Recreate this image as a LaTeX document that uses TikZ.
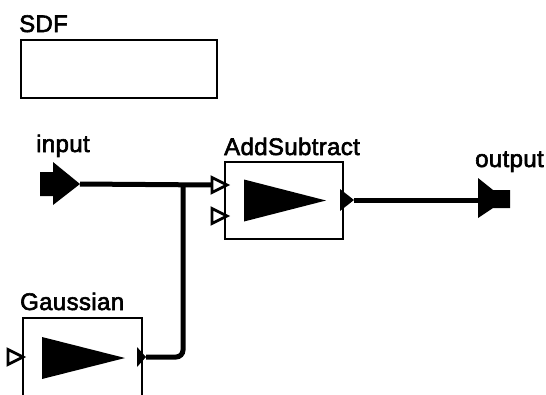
\documentclass[tikz,border=0pt]{standalone}
\usepackage{fontspec}
\newfontfamily\lblfont[FakeBold=2.5,LetterSpace=1.5]{Liberation Sans}
\usetikzlibrary{calc}
\tikzset{actor/.style={draw, line width=2pt, inner sep=0pt}, wire/.style={line width=5pt}, lbl/.style={font=\lblfont\fontsize{24}{24}\selectfont, anchor=base west, inner sep=0pt}, hollowport/.style={draw, line width=2.8pt, line join=miter, fill=white}, solidport/.style={fill=black}}
\begin{document}
\begin{tikzpicture}[x=1pt,y=-1pt]
\useasboundingbox (0,0) rectangle (546,394); \clip (0,0) rectangle (546,394);
% actors
\node[actor, minimum width=196pt, minimum height=58pt] (sdf) at (119,69) {};
\node[actor, minimum width=118pt, minimum height=77pt] (addsub) at (284,200.5) {};
\node[actor, minimum width=119pt, minimum height=82pt] (gauss) at (82.5,359) {};
\node[lbl] (sdflbl) at (19,32) {SDF};
\node[lbl] (addsublbl) at (224,155) {AddSubtract};
\node[lbl] (gausslbl) at (20,310) {Gaussian};
\node[lbl] (inlbl) at (36,152) {input};
\node[lbl] (outlbl) at (475,167) {output};
% icons
\fill ($(addsub)+(-40,-21)$) -- ++(0,42) -- ++(82,-21) -- cycle;
\fill (42,337) -- ++(0,42) -- ++(83,-21) -- cycle;
% ports
\coordinate (inport) at (80,184); \coordinate (outport) at (478,200);
\coordinate (addsub in1) at (212,185); \coordinate (addsub in2) at (212,216); \coordinate (addsub out) at (354,200);
\coordinate (gauss in) at (8,357); \coordinate (gauss out) at (146,357); \coordinate (join) at (183,184);
\fill (inport) -- ++(-27,-22) -- ++(0,10) -- ++(-13,0) -- ++(0,24) -- ++(13,0) -- ++(0,9) -- cycle;
\fill (outport) -- ++(0,-22) -- ++(15,12) -- ++(17,0) -- ++(0,18) -- ++(-17,0) -- ++(-15,10) -- cycle;
\fill[solidport] (addsub out) -- ++(-14,-11) -- ++(0,22) -- cycle;
\fill[solidport] (gauss out) -- ++(-9,-10) -- ++(0,20) -- cycle;
% connectors
\draw[wire] (inport) -- (addsub in1);
\draw[wire, rounded corners=7pt] (gauss out) -| (join);
\draw[wire] (addsub out) -- (outport);
\foreach \p in {addsub in1, addsub in2, gauss in} \draw[hollowport] (\p) ++(0,-7.5) -- ++(15,7.5) -- ++(-15,7.5) -- cycle;
\end{tikzpicture}
\end{document}
